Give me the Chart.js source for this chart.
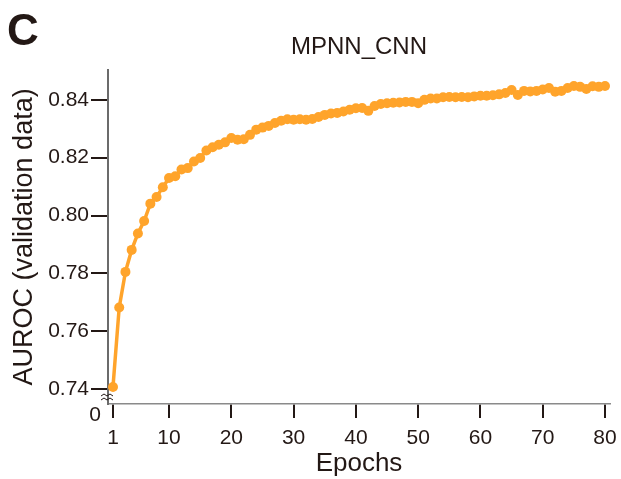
<!DOCTYPE html>
<html>
<head>
<meta charset="utf-8">
<script src="https://cdn.jsdelivr.net/npm/chart.js@4.4.1/dist/chart.umd.min.js"></script>
<style>
  html, body { margin: 0; padding: 0; background: #fff; }
  #wrap { width: 621px; height: 479px; }
</style>
</head>
<body>
<div id="wrap"><canvas id="chart" width="621" height="479"></canvas></div>
<script>
// Data
const epochs = [1, 2, 3, 4, 5, 6, 7, 8, 9, 10,
    11, 12, 13, 14, 15, 16, 17, 18, 19, 20,
    21, 22, 23, 24, 25, 26, 27, 28, 29, 30,
    31, 32, 33, 34, 35, 36, 37, 38, 39, 40,
    41, 42, 43, 44, 45, 46, 47, 48, 49, 50,
    51, 52, 53, 54, 55, 56, 57, 58, 59, 60,
    61, 62, 63, 64, 65, 66, 67, 68, 69, 70,
    71, 72, 73, 74, 75, 76, 77, 78, 79, 80];

const auroc = [0.7407, 0.7682, 0.7805, 0.7881, 0.7938, 0.7981, 0.8041, 0.8064, 0.8098, 0.8130,
    0.8136, 0.8159, 0.8164, 0.8187, 0.8199, 0.8225, 0.8236, 0.8245, 0.8253, 0.8268,
    0.8262, 0.8264, 0.8279, 0.8297, 0.8304, 0.8310, 0.8320, 0.8328, 0.8333, 0.8331,
    0.8333, 0.8331, 0.8334, 0.8341, 0.8348, 0.8353, 0.8355, 0.8360, 0.8366, 0.8371,
    0.8372, 0.8362, 0.8379, 0.8386, 0.8388, 0.8390, 0.8391, 0.8393, 0.8393, 0.8388,
    0.8400, 0.8405, 0.8405, 0.8409, 0.8410, 0.8409, 0.8410, 0.8409, 0.8412, 0.8414,
    0.8414, 0.8416, 0.8419, 0.8424, 0.8434, 0.8417, 0.8431, 0.8429, 0.8431, 0.8436,
    0.8441, 0.8428, 0.8431, 0.8441, 0.8448, 0.8445, 0.8438, 0.8447, 0.8445, 0.8448];

const xTicks = [1, 10, 20, 30, 40, 50, 60, 70, 80];
const yTicks = [0.74, 0.76, 0.78, 0.80, 0.82, 0.84];

const ink = '#231815';
const orange = '#ffa42b';
const fontFamily = '"Liberation Sans", Arial, Helvetica, sans-serif';

// panel letter, the "0" of the broken axis and the break mark
const extras = {
    id: 'extras',
    afterDraw(chart) {
        const ctx = chart.ctx;
        const area = chart.chartArea;
        ctx.save();
        ctx.fillStyle = ink;
        ctx.font = 'bold 44px ' + fontFamily;
        ctx.textAlign = 'left';
        ctx.textBaseline = 'alphabetic';
        ctx.fillText('C', 7, 45);

        ctx.font = '21px ' + fontFamily;
        ctx.textAlign = 'right';
        ctx.textBaseline = 'middle';
        ctx.fillText('0', 101, 415);

        // axis break squiggle
        ctx.strokeStyle = ink;
        ctx.lineWidth = 1;
        const x0 = area.left - 7;
        [396, 400].forEach(yy => {
            ctx.beginPath();
            ctx.moveTo(x0, yy);
            for (let i = 1; i <= 4; i++) {
                ctx.lineTo(x0 + i * 3, yy + (i % 2 ? -2 : 0));
            }
            ctx.stroke();
        });
        ctx.restore();
    }
};

new Chart(document.getElementById('chart'), {
    type: 'line',
    data: {
        datasets: [{
            label: 'MPNN_CNN',
            data: auroc.map((v, i) => ({ x: epochs[i], y: v })),
            borderColor: orange,
            backgroundColor: orange,
            borderWidth: 3.5,
            pointRadius: 5,
            pointBorderWidth: 0,
            pointBackgroundColor: orange,
            tension: 0,
            clip: false
        }]
    },
    options: {
        responsive: false,
        animation: false,
        layout: { padding: { top: 23, right: 11, left: 0, bottom: 0 } },
        plugins: {
            legend: { display: false },
            tooltip: { enabled: false },
            title: {
                display: true,
                text: 'MPNN_CNN',
                fullSize: false,
                color: ink,
                font: { family: fontFamily, size: 24, weight: 'normal' },
                padding: { top: 10, bottom: 8 }
            }
        },
        scales: {
            x: {
                type: 'linear',
                min: 0.2,
                max: 80.8,
                afterBuildTicks: s => { s.ticks = xTicks.map(v => ({ value: v })); },
                afterFit: s => { s.height = 75; s.paddingLeft = 0; s.paddingRight = 0; },
                grid: {
                    drawOnChartArea: false,
                    drawTicks: true,
                    tickLength: 14,
                    color: ink,
                    lineWidth: 2
                },
                border: { display: true, color: '#8a8a8a', width: 1.5, dash: [3, 2] },
                ticks: {
                    color: ink,
                    padding: 8,
                    maxRotation: 0,
                    autoSkip: false,
                    font: { family: fontFamily, size: 21 }
                },
                title: {
                    display: true,
                    text: 'Epochs',
                    color: ink,
                    font: { family: fontFamily, size: 26 },
                    padding: { top: 0, bottom: 0 }
                }
            },
            y: {
                min: 0.7348,
                max: 0.8504,
                afterBuildTicks: s => { s.ticks = yTicks.map(v => ({ value: v })); },
                afterFit: s => { s.width = 108; },
                grid: {
                    drawOnChartArea: false,
                    drawTicks: true,
                    tickLength: 17,
                    color: ink,
                    lineWidth: 2
                },
                border: { display: true, color: '#6b6b6b', width: 2 },
                ticks: {
                    color: ink,
                    padding: 2,
                    callback: v => v.toFixed(2),
                    font: { family: fontFamily, size: 21 }
                },
                title: {
                    display: true,
                    text: 'AUROC (validation data)',
                    color: ink,
                    font: { family: fontFamily, size: 27 },
                    padding: { top: 8, bottom: 0 }
                }
            }
        }
    },
    plugins: [extras]
});
</script>
</body>
</html>
